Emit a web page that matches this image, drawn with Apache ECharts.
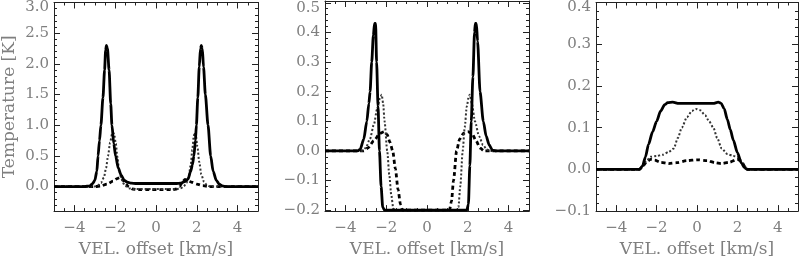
<!DOCTYPE html>
<html><head><meta charset="utf-8">
<script src="https://cdn.jsdelivr.net/npm/echarts@6/dist/echarts.min.js"></script>
<style>html,body{margin:0;padding:0;background:#fff}#c{width:801px;height:263px}</style>
</head><body><div id="c"></div>
<script>
// ---- data (x: km/s, y: K) ----
const p1Solid = [[-5,0],[-3.5,0],[-3.25,0.01],[-3.1,0.05],[-3.0,0.1],[-2.9,0.25],[-2.84,0.5],[-2.77,0.75],[-2.7,1.0],[-2.6,1.45],[-2.52,1.9],[-2.47,2.22],[-2.43,2.3],[-2.38,2.25],[-2.3,1.9],[-2.22,1.35],[-2.16,1.0],[-2.07,0.7],[-1.98,0.5],[-1.85,0.3],[-1.7,0.18],[-1.55,0.1],[-1.4,0.07],[-1.2,0.055],[-1.0,0.05],[1.0,0.05],[1.2,0.055],[1.4,0.08],[1.57,0.12],[1.7,0.25],[1.78,0.35],[1.86,0.5],[1.93,0.75],[1.98,1.0],[2.05,1.45],[2.12,1.95],[2.18,2.25],[2.22,2.3],[2.27,2.25],[2.33,1.95],[2.42,1.5],[2.55,1.0],[2.68,0.5],[2.8,0.25],[2.96,0.1],[3.1,0.04],[3.25,0.01],[3.45,0],[5,0]];
const p1Dotted = [[-5,0],[-3.0,0],[-2.85,0.02],[-2.7,0.06],[-2.55,0.15],[-2.45,0.3],[-2.35,0.5],[-2.25,0.72],[-2.15,0.86],[-2.1,0.88],[-2.05,0.85],[-1.97,0.7],[-1.9,0.5],[-1.82,0.3],[-1.72,0.15],[-1.6,0.05],[-1.45,0.0],[-1.3,-0.03],[-1.1,-0.04],[1.0,-0.04],[1.2,-0.03],[1.35,0.0],[1.5,0.06],[1.6,0.15],[1.7,0.35],[1.78,0.6],[1.85,0.82],[1.9,0.88],[1.95,0.84],[2.03,0.65],[2.12,0.4],[2.22,0.2],[2.35,0.08],[2.5,0.02],[2.65,0],[5,0]];
const p1Dashed = [[-5,0],[-3.0,0],[-2.7,0.01],[-2.4,0.04],[-2.1,0.09],[-1.9,0.13],[-1.78,0.145],[-1.65,0.12],[-1.5,0.05],[-1.35,0.0],[-1.15,-0.04],[-0.9,-0.05],[0.8,-0.05],[1.0,-0.04],[1.15,0.0],[1.3,0.08],[1.42,0.115],[1.55,0.1],[1.75,0.07],[2.0,0.04],[2.3,0.015],[2.6,0],[5,0]];

const p2Solid = [[-5,0],[-3.4,0],[-3.28,0.005],[-3.1,0.04],[-2.95,0.1],[-2.85,0.16],[-2.79,0.2],[-2.71,0.3],[-2.63,0.39],[-2.57,0.43],[-2.52,0.43],[-2.47,0.3],[-2.4,0.15],[-2.33,0.0],[-2.25,-0.12],[-2.17,-0.19],[-2.08,-0.2],[1.95,-0.2],[2.03,-0.18],[2.1,-0.05],[2.17,0.1],[2.25,0.25],[2.33,0.4],[2.37,0.43],[2.42,0.43],[2.48,0.37],[2.6,0.2],[2.76,0.1],[2.9,0.05],[3.05,0.02],[3.2,0.003],[3.4,0],[5,0]];
const p2Dotted = [[-5,0],[-3.2,0],[-3.0,0.01],[-2.8,0.04],[-2.6,0.09],[-2.45,0.14],[-2.3,0.18],[-2.22,0.19],[-2.15,0.16],[-2.08,0.1],[-1.95,0.0],[-1.85,-0.08],[-1.75,-0.15],[-1.65,-0.195],[-1.55,-0.2],[1.45,-0.2],[1.54,-0.19],[1.63,-0.12],[1.75,0.0],[1.85,0.08],[1.95,0.15],[2.05,0.185],[2.1,0.19],[2.2,0.16],[2.35,0.1],[2.55,0.05],[2.75,0.02],[2.93,0.005],[3.1,0],[5,0]];
const p2Dashed = [[-5,0],[-3.1,0],[-2.9,0.01],[-2.6,0.035],[-2.3,0.06],[-2.1,0.065],[-1.95,0.055],[-1.82,0.03],[-1.68,0.0],[-1.55,-0.06],[-1.42,-0.13],[-1.3,-0.18],[-1.2,-0.2],[1.1,-0.2],[1.2,-0.17],[1.3,-0.1],[1.45,0.0],[1.6,0.04],[1.8,0.06],[2.0,0.065],[2.2,0.06],[2.4,0.035],[2.6,0.01],[2.8,0],[5,0]];

const p3Solid = [[-5,0],[-2.85,0],[-2.7,0.008],[-2.55,0.03],[-2.4,0.06],[-2.2,0.09],[-2.0,0.115],[-1.8,0.14],[-1.6,0.155],[-1.45,0.16],[-1.2,0.161],[-0.9,0.158],[0,0.158],[0.8,0.158],[1.05,0.161],[1.2,0.158],[1.35,0.145],[1.5,0.12],[1.65,0.095],[1.8,0.07],[2.0,0.04],[2.2,0.015],[2.35,0.004],[2.5,0],[5,0]];
const p3Dotted = [[-5,0],[-2.85,0],[-2.7,0.008],[-2.5,0.02],[-2.3,0.03],[-2.0,0.032],[-1.7,0.035],[-1.4,0.042],[-1.15,0.05],[-0.95,0.075],[-0.75,0.1],[-0.5,0.125],[-0.25,0.14],[-0.06,0.145],[0.15,0.142],[0.4,0.13],[0.6,0.115],[0.81,0.1],[1.0,0.075],[1.22,0.05],[1.5,0.037],[1.8,0.032],[2.0,0.03],[2.2,0.02],[2.35,0.008],[2.5,0],[5,0]];
const p3Dashed = [[-5,0],[-2.85,0],[-2.7,0.006],[-2.5,0.018],[-2.3,0.024],[-2.1,0.022],[-1.8,0.017],[-1.4,0.014],[-1.0,0.016],[-0.5,0.021],[0,0.023],[0.5,0.021],[0.9,0.016],[1.2,0.014],[1.6,0.017],[2.0,0.024],[2.2,0.02],[2.35,0.008],[2.5,0],[5,0]];

// ---- axis settings ----
const xRange = [-5, 5], xStep = 2, xMinor = 0.5;
const xTitle = 'VEL. offset [km/s]';
const yTitle = 'Temperature [K]';
const panels = [
  {left: 54,  data: [p1Solid, p1Dotted, p1Dashed], yMin: -0.4,   yMax: 3.0,   yStep: 0.5, yMinor: 0.1,  yName: yTitle},
  {left: 325, data: [p2Solid, p2Dotted, p2Dashed], yMin: -0.203, yMax: 0.506, yStep: 0.1, yMinor: 0.02, yName: ''},
  {left: 596, data: [p3Solid, p3Dotted, p3Dashed], yMin: -0.1,   yMax: 0.4,   yStep: 0.1, yMinor: 0.02, yName: ''}
];

const FONT = 'DejaVu Serif';
const TXT = '#7f7f7f';
const FRAME = '#222';
const LINE = '#000';

function isMult(v, step) { const k = v / step; return Math.abs(k - Math.round(k)) < 1e-6; }
function minusStr(v, dec) {
  const s = Math.abs(v).toFixed(dec);
  return (v < -1e-9 ? '\u2212' : '') + s;
}

const grids = [], xAxes = [], yAxes = [], series = [];
panels.forEach((p, g) => {
  grids.push({left: p.left, top: 1, width: 204, height: 217});
  const topTick = Math.floor(p.yMax / p.yStep + 1e-6) * p.yStep;
  const baseX = {type: 'value', gridIndex: g, min: xRange[0], max: xRange[1], splitLine: {show: false}, axisLabel: {show: false}};
  const baseY = {type: 'value', gridIndex: g, min: p.yMin, max: p.yMax, splitLine: {show: false}, axisLabel: {show: false}};
  ['bottom', 'top'].forEach(pos => {
    const major = Object.assign({}, baseX, {
      position: pos, minInterval: xStep, maxInterval: xStep,
      axisLine: {show: true, onZero: false, lineStyle: {color: FRAME, width: 1}},
      axisTick: {show: true, inside: true, length: 6, lineStyle: {color: FRAME, width: 1}}
    });
    if (pos === 'bottom') {
      major.axisLabel = {show: true, margin: 10, color: TXT, fontFamily: FONT, fontSize: 15,
        formatter: v => isMult(v, xStep) ? minusStr(v, 0) : ''};
      major.name = xTitle; major.nameLocation = 'middle'; major.nameGap = 26;
      major.nameTextStyle = {color: TXT, fontFamily: FONT, fontSize: 17};
    }
    xAxes.push(major);
    xAxes.push(Object.assign({}, baseX, {
      position: pos, minInterval: xMinor, maxInterval: xMinor,
      axisLine: {show: false, onZero: false},
      axisTick: {show: true, inside: true, length: 3, lineStyle: {color: FRAME, width: 1}}
    }));
  });
  ['left', 'right'].forEach(pos => {
    const major = Object.assign({}, baseY, {
      position: pos, minInterval: p.yStep, maxInterval: p.yStep,
      axisLine: {show: true, onZero: false, lineStyle: {color: FRAME, width: 1}},
      axisTick: {show: true, inside: true, length: 6, lineStyle: {color: FRAME, width: 1}}
    });
    if (pos === 'left') {
      major.axisLabel = {show: true, margin: 5, color: TXT, fontFamily: FONT, fontSize: 15,
        formatter: v => {
          if (!isMult(v, p.yStep)) return '';
          const s = minusStr(v, 1);
          return Math.abs(v - topTick) < 1e-6 ? '{t|' + s + '}' : s;
        },
        rich: {t: {padding: [10, 0, 0, 0], color: TXT, fontFamily: FONT, fontSize: 15}}
      };
      if (p.yName) {
        major.name = p.yName; major.nameLocation = 'middle'; major.nameGap = 36; major.nameRotate = 90;
        major.nameTextStyle = {color: TXT, fontFamily: FONT, fontSize: 17};
      }
    }
    yAxes.push(major);
    yAxes.push(Object.assign({}, baseY, {
      position: pos, minInterval: p.yMinor, maxInterval: p.yMinor,
      axisLine: {show: false, onZero: false},
      axisTick: {show: true, inside: true, length: 3, lineStyle: {color: FRAME, width: 1}}
    }));
  });
  const styles = [
    {color: LINE, width: 2.8, type: 'solid'},
    {color: '#333', width: 2, type: [2, 2]},
    {color: LINE, width: 2.8, type: [4, 3]}
  ];
  p.data.forEach((d, i) => {
    series.push({type: 'line', xAxisIndex: g * 4, yAxisIndex: g * 4, data: d,
      showSymbol: false, symbol: 'none', smooth: 0.25, smoothMonotone: 'x',
      lineStyle: styles[i], z: 3 - i, clip: true});
  });
});

const chart = echarts.init(document.getElementById('c'), null, {renderer: 'canvas'});
chart.setOption({animation: false, backgroundColor: '#fff', grid: grids, xAxis: xAxes, yAxis: yAxes, series: series});
</script></body></html>
